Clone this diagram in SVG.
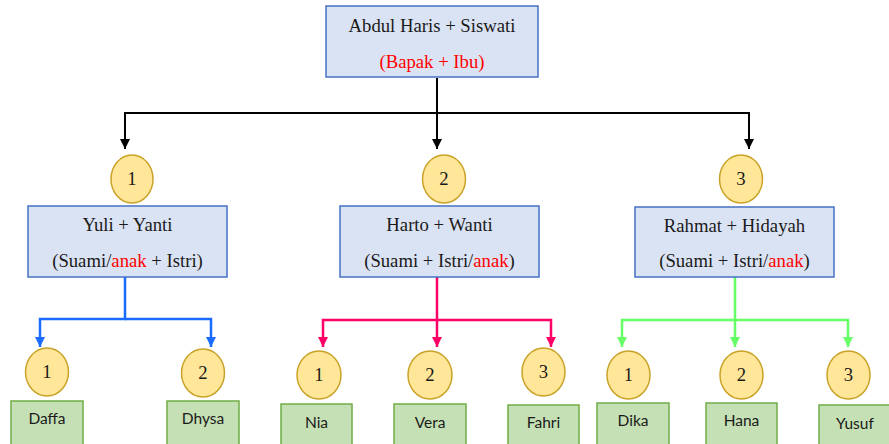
<svg xmlns="http://www.w3.org/2000/svg" width="889" height="444" viewBox="0 0 889 444">
  <style>
    .parent { fill: #DAE3F3; stroke: #4472C4; stroke-width: 1.5; }
    .badge { fill: #FFE699; stroke: #C9A227; stroke-width: 1.5; }
    .child { fill: #C5E0B4; stroke: #70AD47; stroke-width: 1.5; }
    .serif { font-size: 18.7px; fill: #1a1a1a; text-anchor: middle; }
    .sans { font-size: 15.5px; fill: #1a1a1a; text-anchor: middle; }
    .red { fill: #FF0000; }
    .wire { fill: none; stroke-linejoin: miter; }
    .k { stroke: #000000; stroke-width: 2; }
    .b { stroke: #1A6BFF; stroke-width: 2.5; }
    .p { stroke: #FF0066; stroke-width: 2.5; }
    .g { stroke: #66FF66; stroke-width: 2.5; }
  </style>
  <defs>
    <marker id="arrK" markerUnits="userSpaceOnUse" markerWidth="12" markerHeight="10" refX="10" refY="5" orient="auto">
      <path d="M0,0 L10,5 L0,10 z" fill="#000000"/>
    </marker>
    <marker id="arrB" markerUnits="userSpaceOnUse" markerWidth="12" markerHeight="10" refX="10" refY="5" orient="auto">
      <path d="M0,0 L10,5 L0,10 z" fill="#1A6BFF"/>
    </marker>
    <marker id="arrP" markerUnits="userSpaceOnUse" markerWidth="12" markerHeight="10" refX="10" refY="5" orient="auto">
      <path d="M0,0 L10,5 L0,10 z" fill="#FF0066"/>
    </marker>
    <marker id="arrG" markerUnits="userSpaceOnUse" markerWidth="12" markerHeight="10" refX="10" refY="5" orient="auto">
      <path d="M0,0 L10,5 L0,10 z" fill="#66FF66"/>
    </marker>
  </defs>

  <!-- connectors -->
  <g id="connectors">
    <path class="wire k" d="M437,78 V113 H125 V149" marker-end="url(#arrK)"/>
    <path class="wire k" d="M437,113 V149" marker-end="url(#arrK)"/>
    <path class="wire k" d="M437,113 H749 V149" marker-end="url(#arrK)"/>

    <path class="wire b" d="M125,277 V319 H40 V347" marker-end="url(#arrB)"/>
    <path class="wire b" d="M125,319 H211 V347" marker-end="url(#arrB)"/>

    <path class="wire p" d="M437,277 V320 H323 V347" marker-end="url(#arrP)"/>
    <path class="wire p" d="M437,320 V347" marker-end="url(#arrP)"/>
    <path class="wire p" d="M437,320 H551 V347" marker-end="url(#arrP)"/>

    <path class="wire g" d="M735,277 V320 H622 V347" marker-end="url(#arrG)"/>
    <path class="wire g" d="M735,320 V347" marker-end="url(#arrG)"/>
    <path class="wire g" d="M735,320 H848 V347" marker-end="url(#arrG)"/>
  </g>

  <g font-family="Liberation Serif, Times New Roman, serif">
    <!-- parents -->
    <g id="root">
      <rect class="parent" x="326" y="6" width="212" height="71"/>
      <text class="serif" x="432" y="32">Abdul Haris + Siswati</text>
      <text class="serif red" x="432" y="68">(Bapak + Ibu)</text>
    </g>

    <!-- first generation -->
    <g id="badge-1">
      <ellipse class="badge" cx="132" cy="179" rx="21" ry="24"/>
      <text class="serif" x="132" y="185">1</text>
    </g>
    <g id="badge-2">
      <ellipse class="badge" cx="444" cy="179" rx="21.5" ry="24"/>
      <text class="serif" x="444" y="185">2</text>
    </g>
    <g id="badge-3">
      <ellipse class="badge" cx="741" cy="179" rx="21.5" ry="24"/>
      <text class="serif" x="741" y="185">3</text>
    </g>

    <g id="family-yuli">
      <rect class="parent" x="28" y="206" width="199" height="71"/>
      <text class="serif" x="127.5" y="231">Yuli + Yanti</text>
      <text class="serif" x="127.5" y="267">(Suami/<tspan class="red">anak</tspan> + Istri)</text>
    </g>
    <g id="family-harto">
      <rect class="parent" x="340" y="206" width="199" height="71"/>
      <text class="serif" x="439.5" y="231">Harto + Wanti</text>
      <text class="serif" x="439.5" y="267">(Suami + Istri/<tspan class="red">anak</tspan>)</text>
    </g>
    <g id="family-rahmat">
      <rect class="parent" x="635" y="207" width="199" height="70"/>
      <text class="serif" x="734.5" y="232">Rahmat + Hidayah</text>
      <text class="serif" x="734.5" y="267">(Suami + Istri/<tspan class="red">anak</tspan>)</text>
    </g>
  </g>

  <!-- grandchildren -->
  <g id="daffa">
    <ellipse class="badge" cx="47" cy="372" rx="21.5" ry="24"/>
    <text class="serif" font-family="Liberation Serif, serif" x="47" y="378">1</text>
    <rect class="child" x="11" y="401" width="72" height="50"/>
    <text class="sans" font-family="Lato, Liberation Sans, sans-serif" x="47" y="424">Daffa</text>
  </g>
  <g id="dhysa">
    <ellipse class="badge" cx="203" cy="373" rx="21.5" ry="24"/>
    <text class="serif" font-family="Liberation Serif, serif" x="203" y="379">2</text>
    <rect class="child" x="167" y="401" width="72" height="50"/>
    <text class="sans" font-family="Lato, Liberation Sans, sans-serif" x="203" y="424">Dhysa</text>
  </g>
  <g id="nia">
    <ellipse class="badge" cx="319" cy="375" rx="22" ry="24"/>
    <text class="serif" font-family="Liberation Serif, serif" x="319" y="381">1</text>
    <rect class="child" x="281" y="404" width="71" height="50"/>
    <text class="sans" font-family="Lato, Liberation Sans, sans-serif" x="316.5" y="428">Nia</text>
  </g>
  <g id="vera">
    <ellipse class="badge" cx="430" cy="375" rx="22" ry="24"/>
    <text class="serif" font-family="Liberation Serif, serif" x="430" y="381">2</text>
    <rect class="child" x="394" y="404" width="72" height="50"/>
    <text class="sans" font-family="Lato, Liberation Sans, sans-serif" x="430" y="428">Vera</text>
  </g>
  <g id="fahri">
    <ellipse class="badge" cx="543.5" cy="372" rx="21.5" ry="24"/>
    <text class="serif" font-family="Liberation Serif, serif" x="543.5" y="378">3</text>
    <rect class="child" x="508" y="405" width="71" height="50"/>
    <text class="sans" font-family="Lato, Liberation Sans, sans-serif" x="543.5" y="428">Fahri</text>
  </g>
  <g id="dika">
    <ellipse class="badge" cx="628.5" cy="375" rx="21.5" ry="24"/>
    <text class="serif" font-family="Liberation Serif, serif" x="628.5" y="381">1</text>
    <rect class="child" x="597" y="403" width="72" height="50"/>
    <text class="sans" font-family="Lato, Liberation Sans, sans-serif" x="633" y="426">Dika</text>
  </g>
  <g id="hana">
    <ellipse class="badge" cx="741.5" cy="375" rx="21.5" ry="24"/>
    <text class="serif" font-family="Liberation Serif, serif" x="741.5" y="381">2</text>
    <rect class="child" x="706" y="403" width="71" height="50"/>
    <text class="sans" font-family="Lato, Liberation Sans, sans-serif" x="741.5" y="426">Hana</text>
  </g>
  <g id="yusuf">
    <ellipse class="badge" cx="848.5" cy="375" rx="21.5" ry="24"/>
    <text class="serif" font-family="Liberation Serif, serif" x="848.5" y="381">3</text>
    <rect class="child" x="819" y="405" width="75" height="50"/>
    <text class="sans" font-family="Lato, Liberation Sans, sans-serif" x="855" y="429">Yusuf</text>
  </g>
</svg>
